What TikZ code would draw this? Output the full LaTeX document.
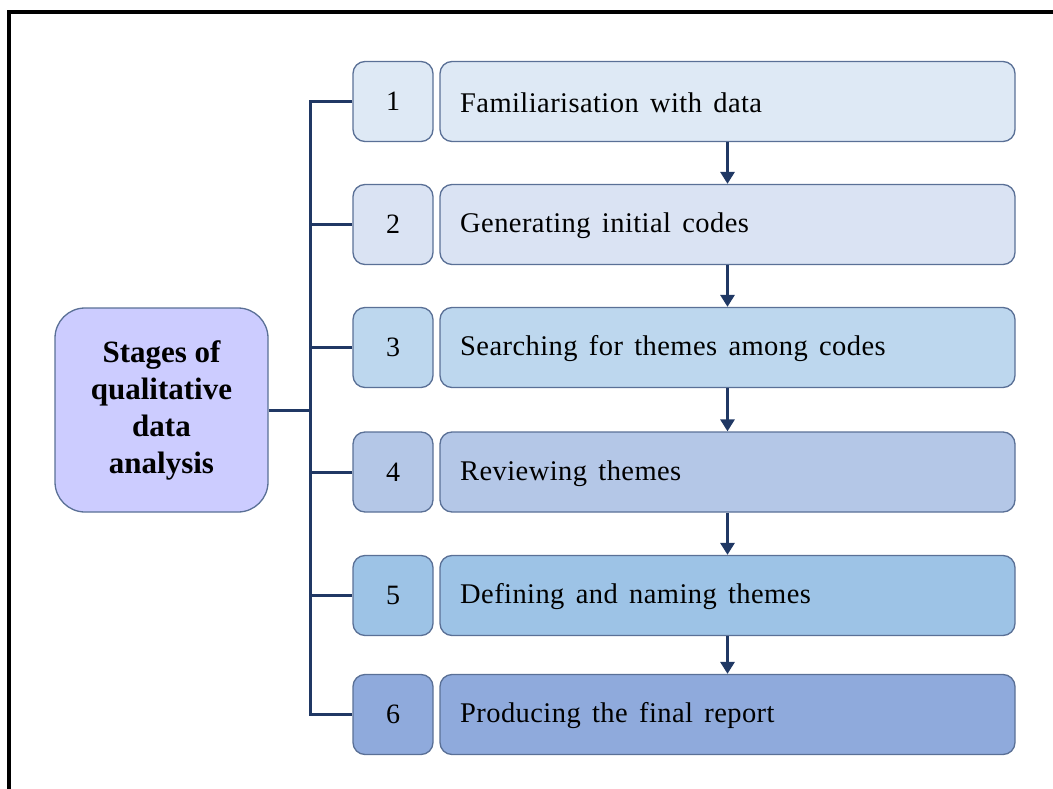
\documentclass[tikz,border=0pt]{standalone}
\usepackage{fontspec}
\setmainfont{Liberation Serif}
\newfontfamily\stagefont{Liberation Serif}[WordSpace=1.5, LetterSpace=1.5]
\usetikzlibrary{arrows.meta}
\definecolor{row1}{RGB}{222,233,245}
\definecolor{row2}{RGB}{218,227,243}
\definecolor{row3}{RGB}{189,215,238}
\definecolor{row4}{RGB}{180,199,231}
\definecolor{row5}{RGB}{157,195,230}
\definecolor{row6}{RGB}{143,170,220}
\definecolor{rootfill}{RGB}{204,204,255}
\definecolor{boxline}{RGB}{90,112,150}
\definecolor{linkline}{RGB}{32,56,100}

\begin{document}
\begin{tikzpicture}[x=1pt,y=-1pt,
  numbox/.style={draw=boxline, line width=1.3pt, rounded corners=12pt, minimum width=80pt, minimum height=80pt, inner sep=0pt, font=\fontsize{28}{32}\selectfont},
  stagebox/.style={draw=boxline, line width=1.3pt, rounded corners=12pt, minimum width=575pt, minimum height=80pt, inner sep=0pt},
  stagetext/.style={anchor=west, inner sep=0pt, font=\stagefont\fontsize{28.5}{32}\selectfont},
  link/.style={draw=linkline, line width=3pt},
  stagearrow/.style={draw=linkline, line width=3pt, -{Triangle[width=14pt,length=12pt]}}]
\useasboundingbox (0,0) rectangle (1053,789);
\begin{scope}
\clip (0,0) rectangle (1053,789);
\draw[line width=4pt] (9,12) rectangle (1070,820);
\end{scope}

% Root
\node[draw=boxline, line width=1.3pt, fill=rootfill, rounded corners=30pt, minimum width=213pt, minimum height=204pt, align=center, font=\fontsize{31}{37}\selectfont\bfseries] (root) at (161.5,410) {Stages of\\qualitative\\data\\analysis};

% Numbers
\node[numbox, fill=row1] (n1) at (393,101.5) {1};
\node[numbox, fill=row2] (n2) at (393,224.5) {2};
\node[numbox, fill=row3] (n3) at (393,347.5) {3};
\node[numbox, fill=row4] (n4) at (393,472) {4};
\node[numbox, fill=row5] (n5) at (393,595.5) {5};
\node[numbox, fill=row6] (n6) at (393,714.5) {6};

% Stages
\node[stagebox, fill=row1] (s1) at (727.5,101.5) {};
\node[stagebox, fill=row2] (s2) at (727.5,224.5) {};
\node[stagebox, fill=row3] (s3) at (727.5,347.5) {};
\node[stagebox, fill=row4] (s4) at (727.5,472) {};
\node[stagebox, fill=row5] (s5) at (727.5,595.5) {};
\node[stagebox, fill=row6] (s6) at (727.5,714.5) {};
\node[stagetext] (t1) at (460,103) {Familiarisation with data};
\node[stagetext] (t2) at (460,226) {Generating initial codes};
\node[stagetext] (t3) at (460,349) {Searching for themes among codes};
\node[stagetext] (t4) at (460,473.5) {Reviewing themes};
\node[stagetext] (t5) at (460,597) {Defining and naming themes};
\node[stagetext] (t6) at (460,716) {Producing the final report};

% Tree
\coordinate (trunk) at (310,410);
\draw[link] (root.east) -- (trunk);
\draw[link] (n1.west) -| (trunk);
\draw[link] (n6.west) -| (trunk);
\draw[link] (n2.west) -- (n2.west -| trunk);
\draw[link] (n3.west) -- (n3.west -| trunk);
\draw[link] (n4.west) -- (n4.west -| trunk);
\draw[link] (n5.west) -- (n5.west -| trunk);

% Arrows
\draw[stagearrow] (s1.south) -- (s2.north);
\draw[stagearrow] (s2.south) -- (s3.north);
\draw[stagearrow] (s3.south) -- (s4.north);
\draw[stagearrow] (s4.south) -- (s5.north);
\draw[stagearrow] (s5.south) -- (s6.north);
\end{tikzpicture}
\end{document}
